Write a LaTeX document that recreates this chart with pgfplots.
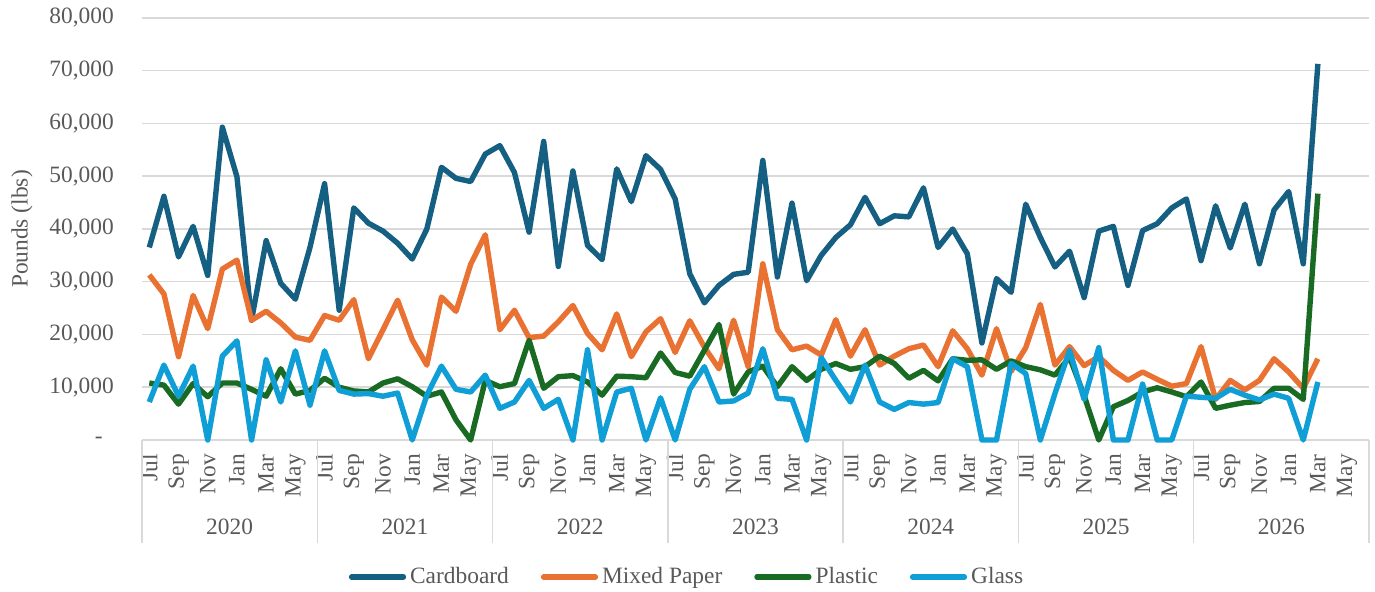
\documentclass[border=0pt]{standalone}
\usepackage{pgfplots}
\pgfplotsset{compat=1.18}
\usepackage{pgfplotstable}
\usepackage{fontspec}
\setmainfont{Liberation Serif}
\definecolor{cCard}{HTML}{156082}
\definecolor{cPaper}{HTML}{E97132}
\definecolor{cPlastic}{HTML}{196B24}
\definecolor{cGlass}{HTML}{0F9ED5}
\definecolor{txt}{HTML}{595959}
\definecolor{grd}{HTML}{D9D9D9}

\pgfplotstableread{
idx card paper plastic glass
0 36500 31300 10800 7200
1 46200 27700 10400 14200
2 34700 15800 6800 8300
3 40500 27400 10700 14000
4 31200 21100 8200 0
5 59300 32400 10800 15900
6 49900 34100 10800 18800
7 22700 22700 9600 0
8 37800 24400 8300 15200
9 29700 22200 13500 7200
10 26700 19500 8700 16900
11 36500 18900 9400 6600
12 48600 23600 11700 16900
13 24600 22700 10000 9400
14 44000 26600 9300 8700
15 41100 15400 9100 8800
16 39600 20900 10800 8300
17 37300 26500 11600 8900
18 34300 19000 10100 0
19 40000 14200 8300 8500
20 51700 27100 9100 14000
21 49600 24400 3800 9600
22 49000 33300 0 9100
23 54200 38900 11300 12300
24 55800 20900 10100 6000
25 50700 24600 10700 7200
26 39400 19400 18900 11300
27 56600 19700 9800 6000
28 32900 22400 12000 7700
29 51000 25500 12200 0
30 36900 20200 11000 17100
31 34200 17100 8500 0
32 51400 23900 12100 9100
33 45200 15800 12000 9800
34 53900 20500 11800 0
35 51300 23000 16500 8000
36 45700 16600 12800 0
37 31500 22600 12100 9600
38 26000 17600 17000 13900
39 29300 13500 21900 7200
40 31400 22700 8700 7400
41 31800 13900 12900 8900
42 53000 33400 14000 17300
43 30900 20900 10100 7900
44 44900 17100 13900 7700
45 30200 17800 11300 0
46 35000 16100 13400 15600
47 38400 22800 14500 11300
48 40800 15900 13400 7200
49 46000 20900 13900 14200
50 41000 14200 15900 7200
51 42500 15900 14500 5800
52 42300 17300 11700 7100
53 47800 18000 13200 6800
54 36500 13900 11200 7100
55 40000 20700 15400 15400
56 35300 17300 15100 13900
57 18400 12300 15200 0
58 30600 21100 13400 0
59 28000 13000 15000 14500
60 44700 17500 13900 12600
61 38400 25700 13300 0
62 32800 14200 12300 8800
63 35800 17700 15700 17000
64 27000 14100 8400 7700
65 39600 15800 0 17500
66 40500 13200 6300 0
67 29300 11300 7500 0
68 39700 12900 9100 10600
69 41000 11500 9900 0
70 44000 10200 9100 0
71 45700 10700 8200 8300
72 34000 17700 11000 8100
73 44400 7700 6000 7900
74 36400 11300 6600 9600
75 44700 9500 7100 8500
76 33400 11300 7300 7600
77 43600 15400 9800 8700
78 47100 12900 9800 7900
79 33400 9800 7700 0
80 71300 15400 46700 11000
}\datatable

\begin{document}
\begin{tikzpicture}
\path[use as bounding box] (-71pt,-76pt) rectangle (616.5pt,220pt);
\begin{axis}[
  at={(0pt,0pt)}, anchor=south west,
  scale only axis, width=613.5pt, height=211pt,
  clip=false,
  xmin=-0.5, xmax=83.5, ymin=0, ymax=80000,
  scaled y ticks=false,
  axis x line*=bottom, axis y line*=left,
  x axis line style={draw=grd, line width=0.75pt, -},
  y axis line style={draw=none},
  major tick length=0pt,
  tick style={draw=grd, line width=0.75pt},
  ytick={0,10000,20000,30000,40000,50000,60000,70000,80000},
  yticklabels={-\hspace*{5.5pt},{10,000},{20,000},{30,000},{40,000},{50,000},{60,000},{70,000},{80,000}},
  ymajorgrids, grid style={draw=grd, line width=0.75pt},
  xtick={0,2,...,82},
  xticklabels={Jul,Sep,Nov,Jan,Mar,May,Jul,Sep,Nov,Jan,Mar,May,Jul,Sep,Nov,Jan,Mar,May,Jul,Sep,Nov,Jan,Mar,May,Jul,Sep,Nov,Jan,Mar,May,Jul,Sep,Nov,Jan,Mar,May,Jul,Sep,Nov,Jan,Mar,May},
  extra x ticks={-0.5,11.5,23.5,35.5,47.5,59.5,71.5,83.5},
  extra x tick labels={},
  extra x tick style={major tick length=51.5pt, tick align=outside},
  tick label style={font=\fontsize{11.7}{14}\selectfont, text=txt},
  xticklabel style={rotate=90, anchor=east},
  xticklabel shift=3.6pt,
  yticklabel style={anchor=east, xshift=-10.6pt},
  ylabel={Pounds (lbs)},
  ylabel style={at={(axis description cs:-0.0978,0.5)}, anchor=center, font=\fontsize{11.7}{14}\selectfont, text=txt},
  legend style={at={(axis description cs:0.445,-0.3246)}, anchor=center, draw=none, fill=none,
    font=\fontsize{11.7}{14}\selectfont, text=txt, legend columns=4,
    /tikz/every even column/.append style={column sep=14pt}},
  legend image code/.code={\draw[#1, line width=2.6pt, line cap=round] (0pt,0pt) -- (26pt,0pt);},
]
\addplot[cCard, line width=2.7pt, line join=round, mark=none] table[x=idx, y=card] {\datatable};
\addplot[cPaper, line width=2.7pt, line join=round, mark=none] table[x=idx, y=paper] {\datatable};
\addplot[cPlastic, line width=2.7pt, line join=round, mark=none] table[x=idx, y=plastic] {\datatable};
\addplot[cGlass, line width=2.7pt, line join=round, mark=none] table[x=idx, y=glass] {\datatable};
\legend{Cardboard, Mixed Paper, Plastic, Glass}
\node[font=\fontsize{11.7}{14}\selectfont, text=txt] at ([yshift=-43.5pt]axis cs:5.5,0) {2020};
\node[font=\fontsize{11.7}{14}\selectfont, text=txt] at ([yshift=-43.5pt]axis cs:17.5,0) {2021};
\node[font=\fontsize{11.7}{14}\selectfont, text=txt] at ([yshift=-43.5pt]axis cs:29.5,0) {2022};
\node[font=\fontsize{11.7}{14}\selectfont, text=txt] at ([yshift=-43.5pt]axis cs:41.5,0) {2023};
\node[font=\fontsize{11.7}{14}\selectfont, text=txt] at ([yshift=-43.5pt]axis cs:53.5,0) {2024};
\node[font=\fontsize{11.7}{14}\selectfont, text=txt] at ([yshift=-43.5pt]axis cs:65.5,0) {2025};
\node[font=\fontsize{11.7}{14}\selectfont, text=txt] at ([yshift=-43.5pt]axis cs:77.5,0) {2026};
\end{axis}
\end{tikzpicture}
\end{document}
